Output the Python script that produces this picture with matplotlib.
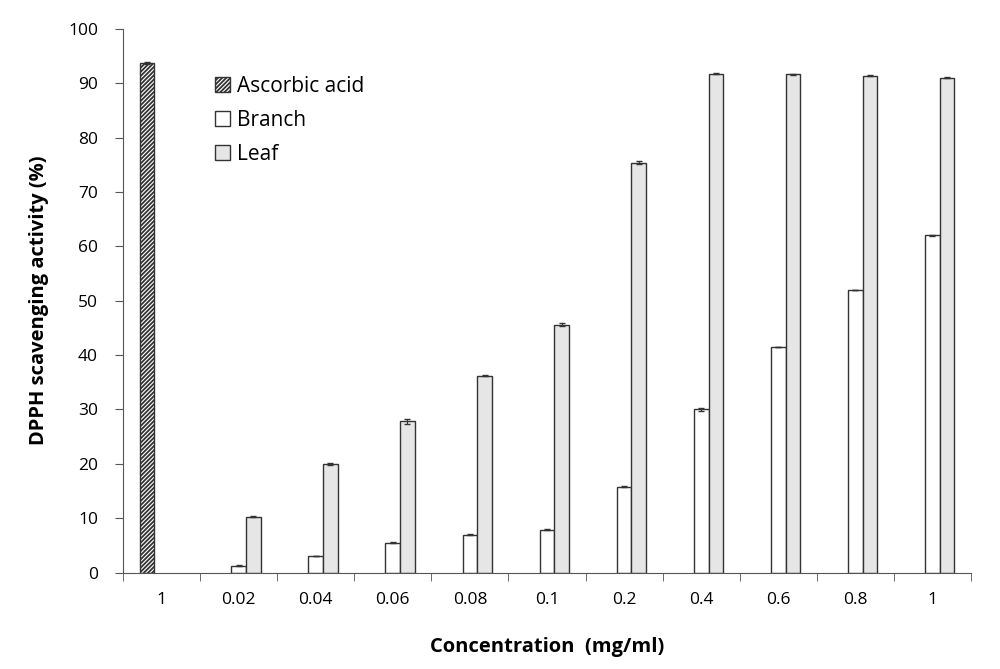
import numpy as np
import matplotlib.pyplot as plt

plt.rcParams['font.family'] = ['Open Sans', 'DejaVu Sans']
plt.rcParams['hatch.linewidth'] = 1.3
plt.rcParams['hatch.color'] = '#222222'

categories = ['1', '0.02', '0.04', '0.06', '0.08', '0.1', '0.2', '0.4', '0.6', '0.8', '1']
ascorbic = [93.7]
branch = [1.3, 3.1, 5.5, 7.0, 7.9, 15.8, 30.0, 41.5, 52.0, 62.0]
leaf = [10.3, 20.0, 27.8, 36.2, 45.6, 75.4, 91.7, 91.6, 91.4, 91.0]
ascorbic_err = [0.2]
branch_err = [0.05, 0.05, 0.05, 0.05, 0.05, 0.05, 0.2, 0.05, 0.05, 0.05]
leaf_err = [0.1, 0.2, 0.4, 0.1, 0.3, 0.2, 0.1, 0.1, 0.1, 0.1]

fig = plt.figure(figsize=(10, 6.69), dpi=100)
ax = fig.add_axes([0.123, 0.144, 0.848, 0.813])

w = 0.19
x = np.arange(len(categories))
xb = x[1:]

ax.bar(x[0] - w, ascorbic, w, facecolor='white', edgecolor='#333333', hatch='////////',
       linewidth=1.0, label='Ascorbic acid')
ax.bar(xb, branch, w, facecolor='white', edgecolor='#333333', linewidth=1.0, label='Branch')
ax.bar(xb + w, leaf, w, facecolor='#e6e6e6', edgecolor='#333333', linewidth=1.0, label='Leaf')
ax.errorbar(x[0] - w, ascorbic, yerr=ascorbic_err, fmt='none', ecolor='#333333', capsize=2.5, elinewidth=0.8)
ax.errorbar(xb, branch, yerr=branch_err, fmt='none', ecolor='#333333', capsize=2.5, elinewidth=0.8)
ax.errorbar(xb + w, leaf, yerr=leaf_err, fmt='none', ecolor='#333333', capsize=2.5, elinewidth=0.8)

ax.set_xlim(-0.5, len(categories) - 0.5)
ax.set_ylim(0, 100)
ax.set_yticks(np.arange(0, 101, 10))
ax.set_xticks(x)
ax.set_xticklabels(categories, fontsize=12.5)
ax.set_xticks(np.arange(-0.5, len(categories), 1), minor=True)
ax.tick_params(axis='x', which='major', length=0, pad=14)
ax.tick_params(axis='x', which='minor', length=6, color='#555555', direction='out')
ax.tick_params(axis='y', length=6, color='#555555', labelsize=12.5, pad=12)

for s in ['top', 'right']:
    ax.spines[s].set_visible(False)
for s in ['left', 'bottom']:
    ax.spines[s].set_color('#555555')

ax.set_xlabel('Concentration  (mg/ml)', fontsize=14.5, fontweight='bold', labelpad=21)
ax.set_ylabel('DPPH scavenging activity (%)', fontsize=14.5, fontweight='bold', labelpad=14)

ax.legend(loc='upper left', bbox_to_anchor=(0.086, 0.948), frameon=False, fontsize=15,
          handlelength=0.75, handleheight=0.75, handletextpad=0.3, labelspacing=0.62)

fig.savefig('out.png', dpi=100)
